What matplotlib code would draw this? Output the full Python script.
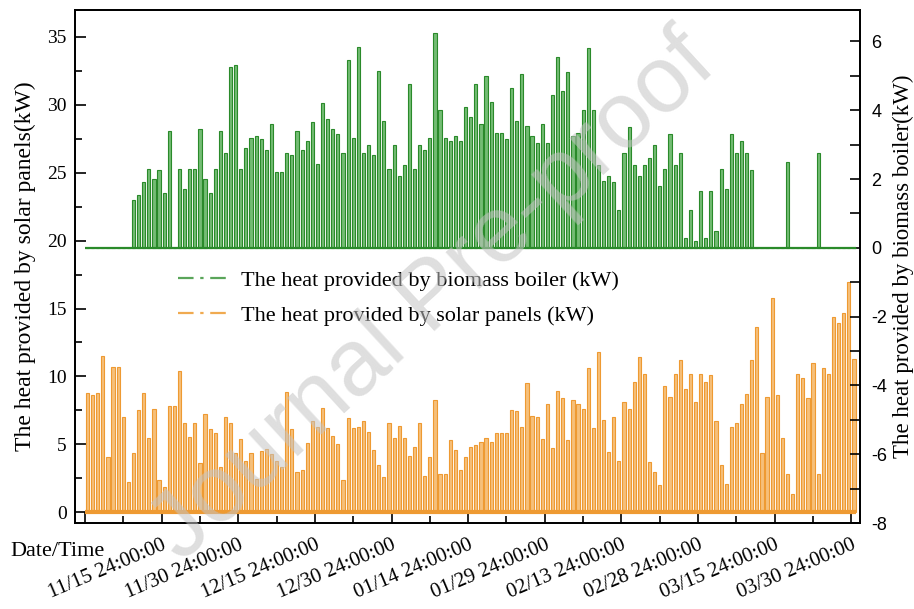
import matplotlib.pyplot as plt
import numpy as np
from matplotlib.lines import Line2D
from matplotlib.ticker import MultipleLocator

plt.rcParams['axes.unicode_minus'] = False

# daily peak values, one per day starting 11/01 00:00
solar = [8.8, 8.6, 8.8, 11.5, 4.05, 10.7, 10.7, 7.0, 2.2, 4.35,
         7.5, 8.75, 5.45, 7.6, 2.35, 1.85, 7.8, 7.8, 10.4, 6.55,
         5.55, 6.55, 3.6, 7.2, 6.1, 5.85, 3.35, 7.05, 6.55, 4.35,
         5.4, 3.8, 4.35, 2.45, 4.5, 4.65, 4.3, 3.8, 3.3, 8.85,
         6.1, 3.0, 3.1, 5.1, 6.75, 6.3, 7.7, 6.2, 5.6, 5.0,
         2.4, 6.95, 6.2, 6.25, 6.7, 5.9, 4.6, 3.45, 2.6, 6.6,
         5.5, 6.35, 5.5, 4.15, 4.8, 6.55, 2.65, 4.05, 8.25, 2.8,
         2.8, 5.3, 4.55, 3.1, 4.1, 4.8, 4.95, 5.2, 5.45, 5.2,
         5.8, 5.85, 5.85, 7.5, 7.45, 6.3, 9.5, 7.1, 7.0, 5.4,
         8.0, 4.7, 8.9, 8.45, 5.3, 8.25, 7.95, 7.6, 10.6, 6.2,
         11.8, 6.8, 4.45, 7.0, 3.8, 8.1, 7.6, 9.6, 11.4, 10.2,
         3.7, 2.95, 2.0, 9.3, 8.5, 10.2, 11.2, 9.1, 10.2, 8.1,
         10.2, 9.6, 10.1, 6.7, 3.5, 2.1, 6.3, 6.6, 8.0, 8.7,
         11.2, 13.65, 4.4, 8.5, 15.8, 8.6, 5.5, 2.85, 1.35, 10.2,
         9.9, 8.4, 11.0, 2.85, 10.6, 10.2, 14.4, 13.9, 14.65, 16.95, 11.3]

boiler = [0, 0, 0, 0, 0, 0, 0, 0, 0, 1.4,
          1.55, 1.9, 2.3, 2.0, 2.25, 1.6, 3.4, 0, 2.3, 1.7,
          2.3, 2.3, 3.45, 2.0, 1.6, 2.3, 3.4, 2.75, 5.25, 5.3,
          2.3, 2.9, 3.2, 3.25, 3.15, 2.85, 3.6, 2.2, 2.2, 2.75,
          2.7, 3.4, 2.85, 3.1, 3.65, 2.45, 4.2, 3.75, 3.45, 3.3,
          2.75, 5.45, 3.2, 5.85, 2.75, 3.0, 2.7, 5.15, 3.7, 2.3,
          3.0, 2.1, 2.4, 4.75, 2.3, 3.0, 2.85, 3.2, 6.25, 4.0,
          3.2, 3.1, 3.25, 3.1, 4.1, 3.8, 4.75, 3.6, 5.0, 4.25,
          3.35, 3.35, 3.15, 4.65, 3.7, 5.05, 3.55, 3.25, 3.05, 3.6,
          3.05, 4.45, 5.55, 4.55, 5.1, 3.25, 3.35, 4.0, 5.8, 4.0,
          2.4, 1.95, 2.1, 1.9, 1.1, 2.75, 3.5, 2.4, 2.1, 2.4,
          2.6, 3.0, 1.8, 2.3, 3.3, 2.4, 2.75, 0.3, 1.1, 0.2,
          1.65, 0.3, 1.65, 0.5, 2.3, 1.7, 3.3, 2.75, 3.1, 2.75,
          2.25, 0, 0, 0, 0, 0, 0, 2.5, 0, 0,
          0, 0, 0, 2.75, 0, 0, 0, 0, 0, 0, 0]

tick_labels = ['', '11/15 24:00:00', '11/30 24:00:00', '12/15 24:00:00',
               '12/30 24:00:00', '01/14 24:00:00', '01/29 24:00:00',
               '02/13 24:00:00', '02/28 24:00:00', '03/15 24:00:00',
               '03/30 24:00:00']

green = '#2a8a2a'
green_fill = '#74bc74'
orange = '#ee9a32'
orange_fill = '#f6c07a'
serif = 'Liberation Serif'
sans = 'Liberation Sans'

fig = plt.figure(figsize=(9.14, 6.09), dpi=100)
ax = fig.add_axes([0.082, 0.141, 0.859, 0.843])
ax2 = ax.twinx()

days = np.arange(len(solar))

# solar panels on the left axis
ax.bar(days + 0.5, solar, width=0.62, color=orange_fill, edgecolor=orange,
       linewidth=0.8, zorder=2)
ax.hlines(0, days[0], days[-1] + 1, color=orange, lw=3, zorder=2)

# biomass boiler on the right axis
ax2.bar(days + 0.5, boiler, width=0.62, color=green_fill, edgecolor=green,
        linewidth=0.8, zorder=2)
ax2.hlines(0, days[0], days[-1] + 1, color=green, lw=1.6, zorder=3)

ax.set_xlim(-1.96, 151.7)
ax.set_xticks(np.arange(0, 151, 15))
ax.set_xticklabels(tick_labels, rotation=23, ha='right', rotation_mode='anchor',
                   fontsize=15, family=serif)
ax.xaxis.set_minor_locator(MultipleLocator(7.5))

ax.set_ylim(-0.8, 37.0)
ax.set_yticks(np.arange(0, 36, 5))
ax.yaxis.set_minor_locator(MultipleLocator(2.5))
for lab in ax.get_yticklabels():
    lab.set_family(serif)
    lab.set_fontsize(14)

ax2.set_ylim(-8, 6.92)
ax2.set_yticks(np.arange(-8, 7, 2))
ax2.yaxis.set_minor_locator(MultipleLocator(1))
for lab in ax2.get_yticklabels():
    lab.set_family(sans)
    lab.set_fontsize(13)

ax.tick_params(axis='both', which='major', direction='in', length=8, width=1.2)
ax.tick_params(axis='both', which='minor', direction='in', length=5, width=1.2)
ax.tick_params(axis='x', pad=9)
ax.tick_params(axis='y', pad=6)
ax2.tick_params(axis='y', which='both', direction='in', length=7, width=1.2, pad=8)

for a in (ax, ax2):
    for s in a.spines.values():
        s.set_linewidth(1.3)

ax.set_ylabel('The heat provided by solar panels(kW)', fontsize=17,
              family=serif, labelpad=8)
ax2.set_ylabel('The heat provided by biomass boiler(kW)', fontsize=16.5,
               family=serif, labelpad=4)

fig.text(10 / 914, 0.095, 'Date/Time', fontsize=16, family=serif, va='center')

handles = [Line2D([], [], color='#5aa55a', lw=1.6, dashes=[7, 3, 1.5, 3]),
           Line2D([], [], color='#f0aa50', lw=1.6, dashes=[7, 3, 1.5, 3])]
labels = ['The heat provided by biomass boiler (kW)',
          'The heat provided by solar panels (kW)']
fig.legend(handles, labels, loc='center left', bbox_to_anchor=(0.183, 0.51),
           frameon=False, prop={'family': serif, 'size': 16},
           handlelength=2.3, handletextpad=0.5, labelspacing=0.65, borderpad=0)

# watermark of the source page
fig.text(0.475, 0.51, 'Journal Pre-proof', rotation=42.6, fontsize=68,
         color='#c4c4c4', alpha=0.55, ha='center', va='center', family=sans,
         zorder=10)

fig.savefig('out.png', dpi=100)
